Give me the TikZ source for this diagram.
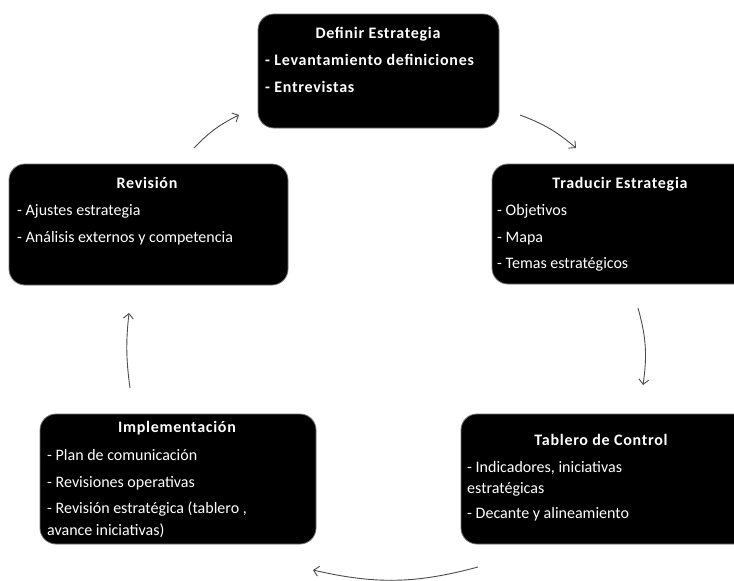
\documentclass[tikz,border=0pt]{standalone}
\usepackage{fontspec}
\setmainfont{Carlito}[BoldFeatures={LetterSpace=4.5}]
\usetikzlibrary{arrows.meta}
\newcommand\headfont{\fontsize{16}{19}\selectfont\bfseries}
\newcommand\bodyfont{\fontsize{16}{19}\selectfont}
\tikzset{
  phasebox/.style={draw=black!55, line width=0.8pt, fill=black, rounded corners=16pt, inner sep=0pt},
  headline/.style={text=white, font=\headfont, anchor=base, inner sep=0pt},
  bodyline/.style={text=white, font=\bodyfont, anchor=base west, inner sep=0pt},
  boldline/.style={bodyline, font=\headfont},
  flow/.style={draw=black!70, line width=0.9pt, -{Straight Barb[length=5pt,width=10pt]}}
}
\begin{document}
\begin{tikzpicture}[x=1pt, y=-1pt]
  \clip (0,0) rectangle (734,581);
  \fill[white] (0,0) rectangle (734,581);

  % phase boxes
  \node[phasebox, minimum width=241pt, minimum height=114pt] (def) at (378.5,71) {};
  \node[phasebox, minimum width=279pt, minimum height=121pt] (rev) at (148.5,224.5) {};
  \node[phasebox, minimum width=268pt, minimum height=120pt] (tra) at (626,224) {};
  \node[phasebox, minimum width=276pt, minimum height=130pt] (imp) at (178,479) {};
  \node[phasebox, minimum width=299pt, minimum height=130pt] (tab) at (610.5,479) {};

  % Definir Estrategia
  \node[headline] (defT) at (378,38) {Definir Estrategia};
  \node[boldline] (def1) at (265,65) {- Levantamiento definiciones};
  \node[boldline] (def2) at (265,92) {- Entrevistas};

  % Revisión
  \node[headline] (revT) at (147,188) {Revisión};
  \node[bodyline] (rev1) at (17,215) {- Ajustes estrategia};
  \node[bodyline] (rev2) at (17,242) {- Análisis externos y competencia};

  % Traducir Estrategia
  \node[headline] (traT) at (620,188) {Traducir Estrategia};
  \node[bodyline] (tra1) at (497,215) {- Objetivos};
  \node[bodyline] (tra2) at (497,242) {- Mapa};
  \node[bodyline] (tra3) at (497,268) {- Temas estratégicos};

  % Implementación
  \node[headline] (impT) at (177,432) {Implementación};
  \node[bodyline] (imp1) at (47,460) {- Plan de comunicación};
  \node[bodyline] (imp2) at (47,487) {- Revisiones operativas};
  \node[bodyline] (imp3) at (47,513) {- Revisión estratégica (tablero ,};
  \node[bodyline] (imp4) at (47,535) {avance iniciativas)};

  % Tablero de Control
  \node[headline] (tabT) at (601,445) {Tablero de Control};
  \node[bodyline] (tab1) at (467,472) {- Indicadores, iniciativas};
  \node[bodyline] (tab2) at (467,493) {estratégicas};
  \node[bodyline] (tab3) at (467,518) {- Decante y alineamiento};

  % cycle arrows
  \coordinate (r2dA) at (194,148);
  \coordinate (r2dB) at (239,115);
  \coordinate (d2tA) at (520,115);
  \coordinate (d2tB) at (576,148);
  \coordinate (t2cA) at (638,308);
  \coordinate (t2cB) at (643,385);
  \coordinate (c2iA) at (478,567);
  \coordinate (c2iB) at (313,570);
  \coordinate (i2rA) at (130,388);
  \coordinate (i2rB) at (129,313);

  \draw[flow] (r2dA) to[bend left=10] (r2dB);
  \draw[flow] (d2tA) to[bend left=10] (d2tB);
  \draw[flow] (t2cA) to[bend left=12] (t2cB);
  \draw[flow] (c2iA) to[bend left=14] (c2iB);
  \draw[flow] (i2rA) to[bend left=7] (i2rB);
\end{tikzpicture}
\end{document}
